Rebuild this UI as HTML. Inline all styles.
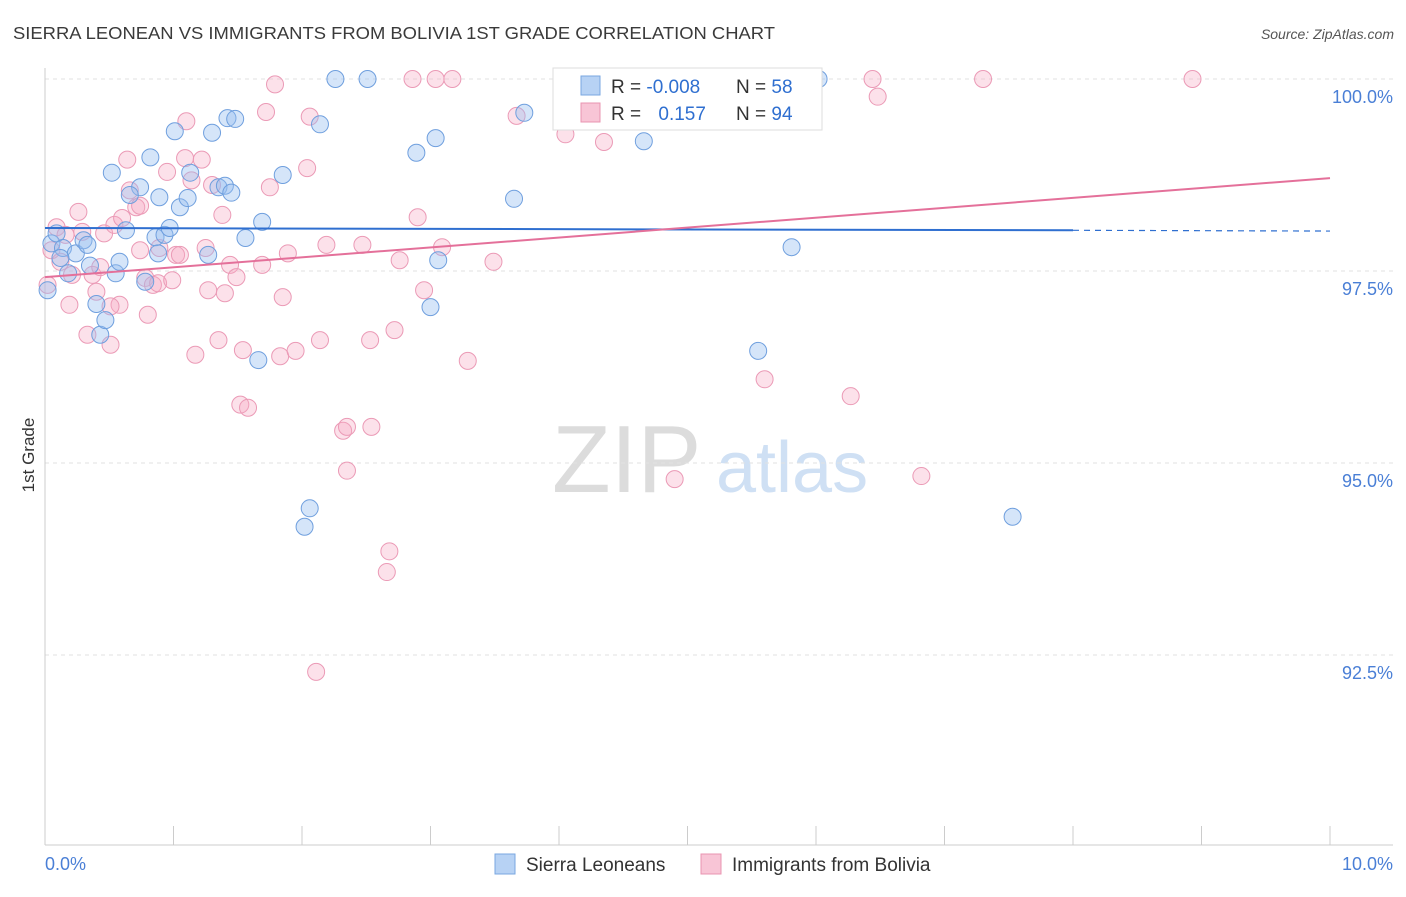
<!DOCTYPE html>
<html><head><meta charset="utf-8"><style>
body{margin:0;background:#fff;font-family:"Liberation Sans",sans-serif}
svg text{font-family:"Liberation Sans",sans-serif}
</style></head><body>
<svg id="chart" width="1406" height="892" viewBox="0 0 1406 892" xmlns="http://www.w3.org/2000/svg">
<text x="13" y="39" font-size="17.5" fill="#3a3a3a" textLength="762" lengthAdjust="spacingAndGlyphs">SIERRA LEONEAN VS IMMIGRANTS FROM BOLIVIA 1ST GRADE CORRELATION CHART</text>
<text x="1394" y="39" font-size="14" fill="#555" text-anchor="end" font-style="italic">Source: ZipAtlas.com</text>
<g>
<text x="552" y="492" font-size="96" fill="#dcdcdc" font-family="Liberation Serif, serif">ZIP</text>
<text x="716" y="492" font-size="72" fill="#cfe0f4">atlas</text>
</g>
<g id="grid"></g>
<g id="axes"></g>
<g id="points"></g>
<g id="trends"></g>
<text transform="translate(34,455) rotate(-90)" font-size="17" fill="#333" text-anchor="middle">1st Grade</text>
<g>
<rect x="553" y="68" width="269" height="62" fill="#fff" stroke="#ddd"/>
<rect x="581" y="76" width="19" height="19" fill="#b7d2f4" stroke="#7aa7e0"/>
<rect x="581" y="103" width="19" height="19" fill="#f8c5d6" stroke="#e994b0"/>
<text x="611" y="93" font-size="19" fill="#333">R = <tspan fill="#2f6fd0">-0.008</tspan></text>
<text x="736" y="93" font-size="19" fill="#333">N = <tspan fill="#2f6fd0">58</tspan></text>
<text x="611" y="120" font-size="19" fill="#333">R = <tspan fill="#2f6fd0" dx="12">0.157</tspan></text>
<text x="736" y="120" font-size="19" fill="#333">N = <tspan fill="#2f6fd0">94</tspan></text>
</g>
<g>
<rect x="495" y="854" width="20" height="20" fill="#b7d2f4" stroke="#7aa7e0"/>
<text x="526" y="871" font-size="19" fill="#333">Sierra Leoneans</text>
<rect x="701" y="854" width="20" height="20" fill="#f8c5d6" stroke="#e994b0"/>
<text x="732" y="871" font-size="19" fill="#333">Immigrants from Bolivia</text>
</g>
</svg>
<script>
const yTicks=[100,97.5,95,92.5];
const yTickLabels=["100.0%","97.5%","95.0%","92.5%"];
const xTickLabels=["0.0%","10.0%"];
const blueX=[0.05,0.09,0.14,0.18,0.24,0.30,0.35,0.40,0.43,0.47,0.52,0.55,0.58,0.63,0.74,0.82,0.86,0.88,0.89,0.93,0.97,1.01,1.05,1.11,1.13,1.27,1.30,1.35,1.40,1.42,1.45,1.48,1.56,1.66,1.69,1.85,2.02,2.06,2.14,2.26,2.51,2.89,3.00,3.04,3.06,3.65,3.73,4.32,4.66,5.55,5.81,6.02,7.53,0.02,0.78,0.66,0.33,0.12];
const blueY=[97.86,97.99,97.80,97.47,97.73,97.90,97.57,97.07,96.67,96.86,98.78,97.47,97.62,98.03,98.59,98.98,97.94,97.73,98.46,97.97,98.06,99.32,98.33,98.45,98.78,97.71,99.30,98.59,98.61,99.49,98.52,99.48,97.93,96.34,98.14,98.75,94.17,94.41,99.41,100,100,99.04,97.03,99.23,97.64,98.44,99.56,100,99.19,96.46,97.81,100,94.30,97.25,97.36,98.49,97.84,97.67];
const pinkX=[0.02,0.05,0.09,0.12,0.16,0.19,0.21,0.26,0.29,0.33,0.37,0.40,0.43,0.46,0.51,0.54,0.58,0.60,0.64,0.66,0.71,0.74,0.78,0.80,0.84,0.88,0.89,0.95,0.99,1.02,1.05,1.09,1.10,1.14,1.17,1.22,1.25,1.27,1.30,1.35,1.38,1.40,1.44,1.49,1.52,1.54,1.58,1.69,1.72,1.75,1.79,1.83,1.85,1.89,1.95,2.04,2.06,2.14,2.19,2.32,2.35,2.35,2.47,2.53,2.54,2.68,2.66,2.72,2.76,2.86,2.90,2.95,3.04,3.09,3.17,3.29,3.49,3.67,4.05,4.05,4.35,4.90,5.60,6.27,6.44,6.48,6.82,7.30,8.93,2.11,0.51,0.74];
const pinkY=[97.32,97.77,98.07,97.62,97.97,97.06,97.45,98.27,98.01,96.67,97.45,97.23,97.55,97.99,96.54,98.10,97.06,98.19,98.95,98.55,98.33,97.77,97.41,96.93,97.32,97.34,97.80,98.79,97.38,97.71,97.71,98.97,99.45,98.68,96.41,98.95,97.80,97.25,98.62,96.60,98.23,97.21,97.58,97.42,95.76,96.47,95.72,97.58,99.57,98.59,99.93,96.39,97.16,97.73,96.46,98.84,99.51,96.60,97.84,95.42,95.47,94.90,97.84,96.60,95.47,93.85,93.58,96.73,97.64,100,98.20,97.25,100,97.81,100,96.33,97.62,99.52,100,99.28,99.18,94.79,96.09,95.87,100,99.77,94.83,100,100,92.28,97.04,98.35];
const blueTrend=[98.06,98.03,98.02];
const pinkTrend=[97.42,98.71];
const NS="http://www.w3.org/2000/svg";
const X=v=>45+v*128.5;
const Y=v=>79+(100-v)*76.8;
function mk(tag,attrs,parent){const e=document.createElementNS(NS,tag);for(const k in attrs)e.setAttribute(k,attrs[k]);document.getElementById(parent).appendChild(e);return e;}
yTicks.forEach((t,i)=>{
 const g=mk('line',{x1:45,x2:1393,y1:Y(t),y2:Y(t),stroke:'#e2e2e2','stroke-dasharray':'4,4'},'grid');
 
 
 const l=mk('text',{x:1393,y:Y(t)+24,'font-size':18,fill:'#4a7fd6','text-anchor':'end'},'axes');
 l.textContent=yTickLabels[i];
 
 
});
const ax=mk('line',{x1:45,x2:45,y1:68,y2:845,stroke:'#ccc'},'axes');


const bx=mk('line',{x1:45,x2:1393,y1:845,y2:845,stroke:'#ccc'},'axes');


for(let i=0;i<=10;i++){
 const t=mk('line',{x1:X(i),x2:X(i),y1:826,y2:845,stroke:'#ccc'},'axes');
 
 
}
const x0=mk('text',{x:45,y:870,'font-size':18,fill:'#4a7fd6'},'axes');
x0.textContent=xTickLabels[0];


const x1=mk('text',{x:1393,y:870,'font-size':18,fill:'#4a7fd6','text-anchor':'end'},'axes');
x1.textContent=xTickLabels[1];


pinkX.forEach((v,i)=>{
 const c=mk('circle',{cx:X(v),cy:Y(pinkY[i]),r:8.5,fill:'rgba(245,170,196,0.35)',stroke:'#eb9ab6','stroke-width':1},'points');
 
 
});
blueX.forEach((v,i)=>{
 const c=mk('circle',{cx:X(v),cy:Y(blueY[i]),r:8.5,fill:'rgba(150,190,240,0.4)',stroke:'#6f9fde','stroke-width':1},'points');
 
 
});
const bt=mk('line',{x1:X(0),y1:Y(blueTrend[0]),x2:X(8),y2:Y(blueTrend[1]),stroke:'#2f6fd0','stroke-width':2},'trends');


const bd=mk('line',{x1:X(8),y1:Y(blueTrend[1]),x2:X(10),y2:Y(blueTrend[2]),stroke:'#2f6fd0','stroke-width':1.2,'stroke-dasharray':'6,5'},'trends');


const pt=mk('line',{x1:X(0),y1:Y(pinkTrend[0]),x2:X(10),y2:Y(pinkTrend[1]),stroke:'#e4709a','stroke-width':2},'trends');


</script>
</body></html>
